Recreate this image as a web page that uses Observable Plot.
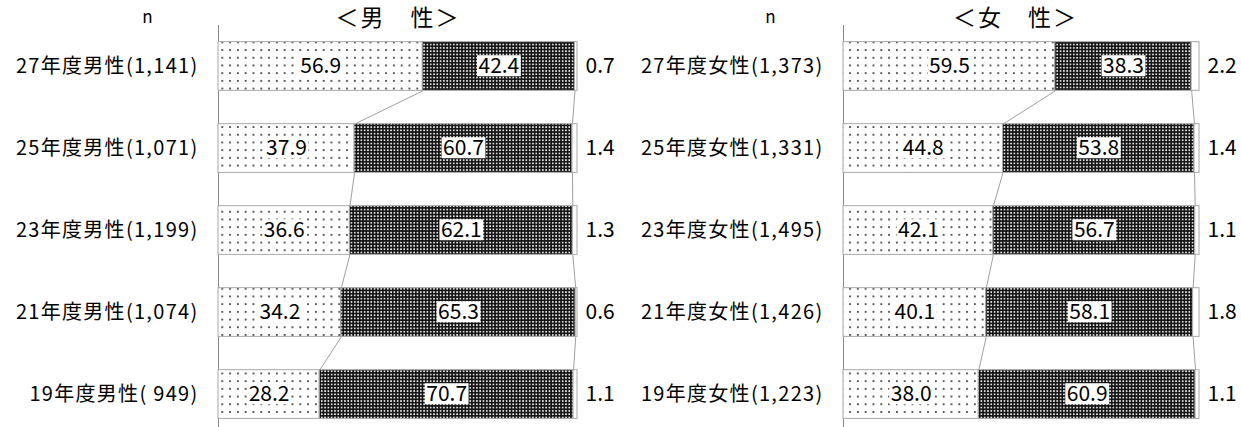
<!DOCTYPE html>
<html><head><meta charset="utf-8">
<script src="https://cdn.jsdelivr.net/npm/d3@7"></script>
<script src="https://cdn.jsdelivr.net/npm/@observablehq/plot@0.6"></script>
<style>
body{margin:0;background:#fff;}
#wrap{display:flex;width:1241px;height:427px;overflow:hidden;}
#wrap svg{display:block;font-family:"Noto Sans CJK JP","Noto Sans",sans-serif;}
</style></head><body><div id="wrap"></div>
<script>
// ---- data ----
const years = ["27年度", "25年度", "23年度", "21年度", "19年度"];
const maleN = ["1,141", "1,071", "1,199", "1,074", " 949"];
const femaleN = ["1,373", "1,331", "1,495", "1,426", "1,223"];
const maleA = [56.9, 37.9, 36.6, 34.2, 28.2];
const maleB = [42.4, 60.7, 62.1, 65.3, 70.7];
const maleC = [0.7, 1.4, 1.3, 0.6, 1.1];
const femaleA = [59.5, 44.8, 42.1, 40.1, 38.0];
const femaleB = [38.3, 53.8, 56.7, 58.1, 60.9];
const femaleC = [2.2, 1.4, 1.1, 1.8, 1.1];
const titles = {male: "＜男　性＞", female: "＜女　性＞"};
const sexLabels = {male: "男性", female: "女性"};

const h = 0.297; // half bar thickness (row units)
const BOXED = "#010101", ROWLAB = "#020202", TITLE = "#030303";

function addDefs(svg, id) {
  const defs = d3.select(svg).insert("defs", ":first-child");
  const p1 = defs.append("pattern").attr("id", "dots-" + id)
    .attr("patternUnits", "userSpaceOnUse").attr("width", 7.8).attr("height", 7.7);
  p1.append("rect").attr("width", 7.8).attr("height", 7.7).attr("fill", "white");
  p1.append("rect").attr("x", 3).attr("y", 3).attr("width", 1.7).attr("height", 1.7).attr("fill", "#2a2a2a");
  const p2 = defs.append("pattern").attr("id", "dense-" + id)
    .attr("patternUnits", "userSpaceOnUse").attr("width", 3.3).attr("height", 3.3);
  p2.append("rect").attr("width", 3.3).attr("height", 3.3).attr("fill", "#151515");
  p2.append("rect").attr("x", 0.9).attr("y", 0.9).attr("width", 1.6).attr("height", 1.6).attr("fill", "#f4f4f4");
}

function panel({id, width, marginLeft, marginRight, nDx, titleDx, n, A, B, C}) {
  const cum1 = A;
  const cum2 = A.map((a, i) => a + B[i]);
  const rows = years.map((yr, k) => ({k, label: `${yr}${sexLabels[id]}(${n[k]})`}));
  const segs = years.flatMap((yr, k) => [
    {k, x1: 0, x2: cum1[k], fill: `url(#dots-${id})`},
    {k, x1: cum1[k], x2: cum2[k], fill: `url(#dense-${id})`},
    {k, x1: cum2[k], x2: 100, fill: "white"}
  ]);
  const links = d3.range(years.length - 1).flatMap(k => [
    {x1: cum1[k], y1: k + h, x2: cum1[k + 1], y2: k + 1 - h},
    {x1: cum2[k], y1: k + h, x2: cum2[k + 1], y2: k + 1 - h}
  ]);
  const inLabels = years.flatMap((yr, k) => [
    {k, x: A[k] / 2, v: A[k]},
    {k, x: cum1[k] + B[k] / 2, v: B[k]}
  ]);
  const outLabels = years.map((yr, k) => ({k, v: C[k]}));

  const svg = Plot.plot({
    width, height: 427, marginLeft, marginRight, marginTop: 25, marginBottom: 0,
    x: {domain: [0, 100], axis: null},
    y: {domain: [-0.5, 4.402], axis: null, reverse: true},
    color: {type: "identity"},
    style: {fontFamily: "'Noto Sans CJK JP', sans-serif", background: "white", overflow: "visible"},
    marks: [
      Plot.ruleX([0], {stroke: "#888"}),
      Plot.link(links, {x1: "x1", y1: "y1", x2: "x2", y2: "y2", stroke: "#a0a0a0", strokeWidth: 1}),
      Plot.rectX(segs, {x1: "x1", x2: "x2", y1: d => d.k - h, y2: d => d.k + h, fill: "fill", stroke: "#a8a8a8", strokeWidth: 1}),
      Plot.text(inLabels, {x: "x", y: "k", text: d => d.v.toFixed(1), fontSize: 21, fill: BOXED}),
      Plot.text(outLabels, {frameAnchor: "right", y: "k", text: d => d.v.toFixed(1), fontSize: 21, textAnchor: "start", dx: 8, fill: "black"}),
      Plot.text(rows, {frameAnchor: "left", y: "k", text: "label", fontSize: 20, textAnchor: "end", dx: -20, fill: ROWLAB}),
      Plot.text([titles[id]], {frameAnchor: "top", dx: titleDx, dy: -7, lineAnchor: "middle", fontSize: 23, fill: TITLE}),
      Plot.text(["n"], {frameAnchor: "top-left", dx: nDx, dy: -8, lineAnchor: "middle", textAnchor: "middle", fontSize: 17, fill: "black"})
    ]
  });
  addDefs(svg, id);
  return svg;
}

const wrap = document.getElementById("wrap");
const left = panel({id: "male", width: 620, marginLeft: 218, marginRight: 43, nDx: -71, titleDx: 0, n: maleN, A: maleA, B: maleB, C: maleC});
const right = panel({id: "female", width: 621, marginLeft: 223, marginRight: 42, nDx: -73, titleDx: -6, n: femaleN, A: femaleA, B: femaleB, C: femaleC});
wrap.appendChild(left);
wrap.appendChild(right);

for (const svg of [left, right]) {
  const s = d3.select(svg);
  s.selectAll(`g[fill="${ROWLAB}"] text`).attr("letter-spacing", "1.3px");
  s.selectAll(`g[fill="${TITLE}"] text`).attr("letter-spacing", "2px");
  s.selectAll(`g[fill="${BOXED}"] text`).each(function () {
    const t = this;
    const b = t.getBBox();
    const r = document.createElementNS("http://www.w3.org/2000/svg", "rect");
    r.setAttribute("x", b.x - 1.5);
    r.setAttribute("y", b.y + b.height * 0.2);
    r.setAttribute("width", b.width + 3);
    r.setAttribute("height", b.height * 0.7);
    r.setAttribute("fill", "white");
    if (t.getAttribute("transform")) r.setAttribute("transform", t.getAttribute("transform"));
    t.parentNode.insertBefore(r, t);
  });
}
</script></body></html>
